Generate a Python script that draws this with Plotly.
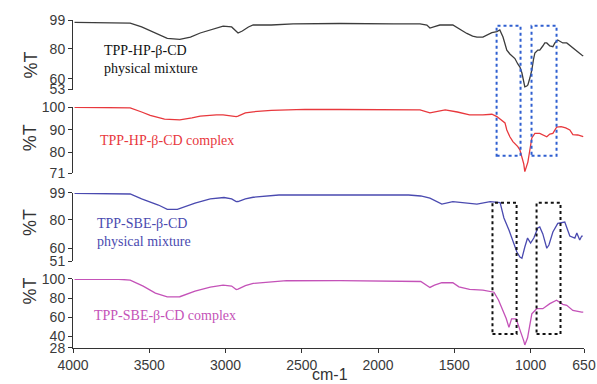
import plotly.graph_objects as go

# ---- data (wavenumber cm-1, %T) ----
wn_hp_pm = [3990, 3700, 3625, 3550, 3494, 3420, 3382, 3300, 3230, 3166, 3080, 3016, 2960, 2930, 2918, 2890,
            2850, 2819, 2700, 2557, 2250, 1900, 1725, 1680, 1660, 1630, 1595, 1510, 1477, 1440, 1418, 1380,
            1352, 1313, 1280, 1254, 1221, 1202, 1181, 1168, 1156, 1136, 1116, 1103, 1084, 1070, 1057, 1045,
            1038, 1025, 1018, 1005, 992, 982, 972, 953, 940, 920, 907, 894, 874, 854, 841, 822, 810, 789,
            763, 740, 723, 691, 665, 655]
t_hp_pm = [97.5, 97.5, 97.0, 94.4, 91.7, 88.4, 86.8, 86.2, 87.7, 90.4, 93.0, 95.0, 94.4, 91.7, 90.4, 91.7,
           94.4, 95.7, 95.7, 96.4, 96.7, 96.5, 96.4, 95.7, 93.7, 94.7, 95.7, 95.7, 93.7, 91.1, 90.1, 88.4,
           87.7, 87.7, 89.1, 90.7, 91.3, 92.4, 87.7, 82.5, 79.1, 76.5, 74.5, 73.5, 69.9, 67.9, 63.9, 59.3,
           54.8, 55.3, 56.0, 60.6, 65.9, 72.5, 77.2, 79.1, 79.1, 81.8, 83.8, 83.8, 81.8, 81.3, 83.8, 85.8,
           85.1, 83.8, 83.8, 81.8, 80.5, 77.8, 75.8, 75.2]

wn_hp_cx = [3990, 3700, 3625, 3550, 3494, 3400, 3300, 3220, 3166, 3060, 3016, 2930, 2918, 2870, 2819, 2700,
            2480, 2250, 1900, 1725, 1660, 1600, 1560, 1480, 1400, 1313, 1254, 1221, 1190, 1168, 1156, 1136,
            1116, 1100, 1084, 1070, 1057, 1045, 1038, 1030, 1018, 1005, 992, 972, 940, 894, 874, 854, 829,
            800, 770, 743, 723, 691, 665, 655]
t_hp_cx = [99.9, 99.9, 99.6, 97.8, 96.3, 94.7, 94.3, 95.2, 96.0, 96.5, 96.5, 95.8, 96.0, 97.4, 97.9, 98.5,
           99.0, 98.9, 98.7, 98.7, 97.4, 98.2, 98.7, 97.8, 96.5, 96.5, 96.8, 95.8, 94.3, 93.0, 89.9, 86.9,
           84.8, 83.7, 82.6, 81.1, 78.2, 75.0, 71.6, 73.2, 75.8, 81.1, 86.4, 88.4, 88.4, 86.9, 88.1, 88.4,
           91.2, 91.4, 90.8, 89.9, 87.9, 87.7, 87.0, 87.0]

wn_sbe_pm = [3990, 3700, 3625, 3550, 3440, 3382, 3316, 3200, 3100, 3010, 2960, 2930, 2918, 2870, 2819, 2650,
             2250, 1800, 1720, 1660, 1582, 1510, 1352, 1265, 1200, 1175, 1142, 1116, 1090, 1070, 1057, 1038,
             1020, 1000, 979, 953, 940, 920, 894, 880, 854, 822, 776, 743, 710, 697, 678, 665, 658]
t_sbe_pm = [98.8, 98.8, 98.3, 94.8, 90.5, 87.5, 87.5, 91.9, 94.8, 95.8, 94.8, 92.9, 93.0, 94.8, 96.0, 97.6,
            97.6, 97.6, 96.9, 95.3, 91.2, 92.9, 91.2, 92.9, 92.2, 81.4, 72.9, 65.8, 57.3, 53.8, 52.9, 60.9,
            67.2, 63.7, 67.2, 74.3, 75.0, 70.1, 60.0, 62.3, 71.5, 77.6, 78.5, 68.6, 67.2, 70.8, 65.8, 68.6, 68.6]

wn_sbe_cx = [3990, 3700, 3625, 3540, 3460, 3382, 3300, 3200, 3100, 3016, 2960, 2930, 2918, 2870, 2819, 2600,
             2250, 1800, 1720, 1660, 1630, 1582, 1510, 1470, 1400, 1313, 1280, 1240, 1210, 1181, 1160, 1142,
             1125, 1095, 1070, 1045, 1038, 1020, 992, 960, 920, 874, 830, 789, 763, 723, 665, 655]
t_sbe_cx = [99.7, 99.7, 98.9, 92.6, 85.2, 81.3, 81.5, 87.3, 91.5, 93.6, 92.6, 89.1, 89.4, 93.1, 95.4, 98.2,
            98.4, 97.9, 97.4, 91.2, 93.6, 96.1, 96.1, 91.8, 89.1, 88.4, 87.3, 86.2, 77.8, 67.2, 58.7, 49.5,
            58.4, 58.4, 47.6, 35.4, 31.2, 38.6, 63.7, 69.0, 69.0, 74.3, 77.8, 73.5, 72.5, 67.2, 65.4, 65.4]

x_ticks = [4000, 3500, 3000, 2500, 2000, 1500, 1000, 650]
y_ranges = [[53, 99], [71, 100], [51, 99], [28, 100]]
y_ticks = [[99, 80, 60, 53], [100, 90, 80, 71], [99, 80, 60, 51], [100, 80, 60, 40, 28]]
labels = ["TPP-HP-β-CD<br>physical mixture", "TPP-HP-β-CD complex",
          "TPP-SBE-β-CD<br>physical mixture", "TPP-SBE-β-CD complex"]
colors = ["#3c3c3c", "#e8383d", "#4a4ab0", "#c452b8"]
# highlighted regions (cm-1)
boxes_hp = [[1223, 1066], [994, 830]]
boxes_sbe = [[1250, 1092], [961, 804]]

series = [(wn_hp_pm, t_hp_pm), (wn_hp_cx, t_hp_cx), (wn_sbe_pm, t_sbe_pm), (wn_sbe_cx, t_sbe_cx)]
domains = [[0.7833, 0.9939], [0.5303, 0.7303], [0.2636, 0.4697], [0.0, 0.2091]]

fig = go.Figure()
for i, (xs, ys) in enumerate(series):
    fig.add_trace(go.Scatter(x=xs, y=ys, mode="lines", xaxis="x", yaxis="y" if i == 0 else f"y{i+1}",
                             line=dict(color=colors[i], width=1.3), showlegend=False, hoverinfo="skip"))

tickfont = dict(family="Liberation Sans, Arial, sans-serif", size=14, color="#3a3a3a")
layout = dict(
    width=597, height=384, margin=dict(l=73, r=13, t=18, b=36),
    paper_bgcolor="white", plot_bgcolor="white", showlegend=False,
    xaxis=dict(range=[4000, 650], tickvals=x_ticks, ticks="outside", ticklen=4, tickcolor="#333",
               showline=True, linecolor="#333", linewidth=1, showgrid=False, zeroline=False,
               tickfont=tickfont, anchor="y4", automargin=False),
)
for i in range(4):
    key = "yaxis" if i == 0 else f"yaxis{i+1}"
    layout[key] = dict(domain=domains[i], range=y_ranges[i], tickvals=y_ticks[i], ticks="outside",
                       ticklen=4, tickcolor="#333", showline=True, linecolor="#333", linewidth=1,
                       showgrid=False, zeroline=False, tickfont=tickfont, anchor="x", automargin=False)
fig.update_layout(**layout)

serif = "Liberation Serif, Times New Roman, serif"
text_pos = [(0.0568, 0.8747), (0.0489, 0.6303), (0.043, 0.3505), (0.0372, 0.097)]
for (tx, ty), lab, c in zip(text_pos, labels, colors):
    fig.add_annotation(x=tx, y=ty, xref="paper", yref="paper", text=lab, showarrow=False,
                       xanchor="left", yanchor="middle", align="left",
                       font=dict(family=serif, size=14, color="#111" if c == colors[0] else c))

for ty in [0.903, 0.636, 0.379, 0.124]:
    fig.add_annotation(x=-0.1076, y=ty, xref="paper", yref="paper", text="%T", showarrow=False,
                       textangle=-90, font=dict(family="Liberation Sans, Arial, sans-serif", size=18, color="#333"))
fig.add_annotation(x=0.502, y=-0.079, xref="paper", yref="paper", text="cm-1", showarrow=False,
                   yanchor="middle", borderpad=0,
                   font=dict(family="Liberation Sans, Arial, sans-serif", size=16, color="#333"))

for x0, x1 in boxes_hp:
    fig.add_shape(type="rect", xref="x", yref="paper", x0=x0, x1=x1, y0=0.5827, y1=0.9767,
                  line=dict(color="#2f5fd0", width=2, dash="dot"))
for x0, x1 in boxes_sbe:
    fig.add_shape(type="rect", xref="x", yref="paper", x0=x0, x1=x1, y0=0.0424, y1=0.4403,
                  line=dict(color="#111", width=2, dash="dot"))

fig.write_html("out.html")
